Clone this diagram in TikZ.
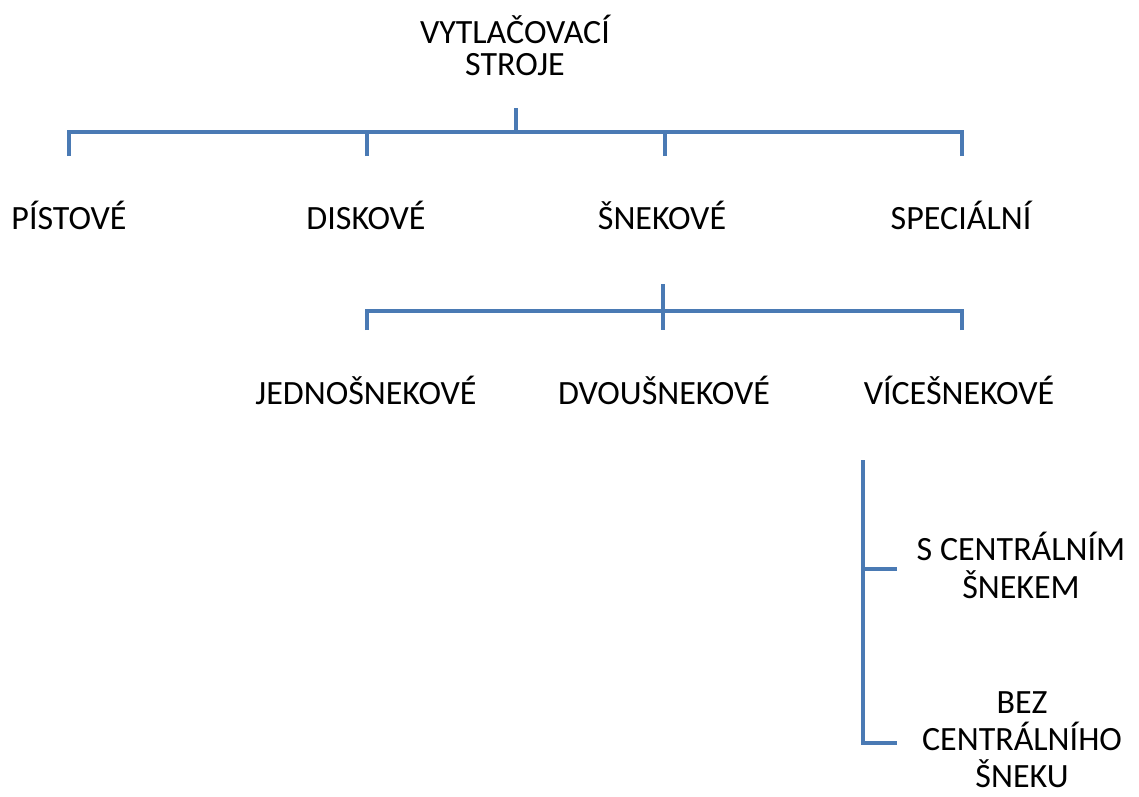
\documentclass[tikz,border=0pt]{standalone}
\usepackage{fontspec}
\setmainfont{Carlito}
\definecolor{treeblue}{RGB}{74,122,180}

\tikzstyle{label}=[inner sep=0pt, anchor=base, align=center, font=\fontsize{34}{38}\selectfont]
\tikzstyle{branch}=[line width=4.5pt, treeblue]

\begin{document}
\begin{tikzpicture}[x=1pt, y=-1pt]
    \useasboundingbox (0,0) rectangle (1139,796);

    % base anchor sits on the last line
    \node[label, font=\fontsize{34}{32}\selectfont] (root) at (515, 75) {VYTLAČOVACÍ\\STROJE};
    \node[label] (pist) at (69, 229) {PÍSTOVÉ};
    \node[label] (disk) at (366, 229) {DISKOVÉ};
    \node[label] (snek) at (662, 229) {ŠNEKOVÉ};
    \node[label] (spec) at (961, 229) {SPECIÁLNÍ};
    \node[label] (jedn) at (366, 404) {JEDNOŠNEKOVÉ};
    \node[label] (dvou) at (664, 404) {DVOUŠNEKOVÉ};
    \node[label] (vice) at (959, 404) {VÍCEŠNEKOVÉ};
    \node[label] (scen) at (1021, 598) {S CENTRÁLNÍM\\ŠNEKEM};
    \node[label, font=\fontsize{34}{37}\selectfont] (bez) at (1022, 787) {BEZ\\CENTRÁLNÍHO\\ŠNEKU};

    % first level
    \coordinate (top) at (516, 108);
    \coordinate (bar) at (516, 132);
    \coordinate (p1) at (69, 156);
    \coordinate (p2) at (367, 156);
    \coordinate (p3) at (665, 156);
    \coordinate (p4) at (962, 156);
    \draw[branch] (top) -- (bar);
    \draw[branch] (p1) |- (bar);
    \draw[branch] (p4) |- (bar);
    \draw[branch] (p2) -- (p2 |- bar);
    \draw[branch] (p3) -- (p3 |- bar);

    % second level
    \coordinate (s0) at (663, 284);
    \coordinate (s1) at (367, 330);
    \coordinate (s2) at (663, 330);
    \coordinate (s3) at (962, 330);
    \coordinate (sbar) at (663, 311);
    \draw[branch] (s0) -- (s2);
    \draw[branch] (s1) |- (sbar);
    \draw[branch] (s3) |- (sbar);

    % third level
    \coordinate (v0) at (863, 460);
    \coordinate (v1) at (897, 569);
    \coordinate (v2) at (897, 743);
    \draw[branch] (v0) |- (v2);
    \draw[branch] (v1) -| (v0);
  \end{tikzpicture}
\end{document}
